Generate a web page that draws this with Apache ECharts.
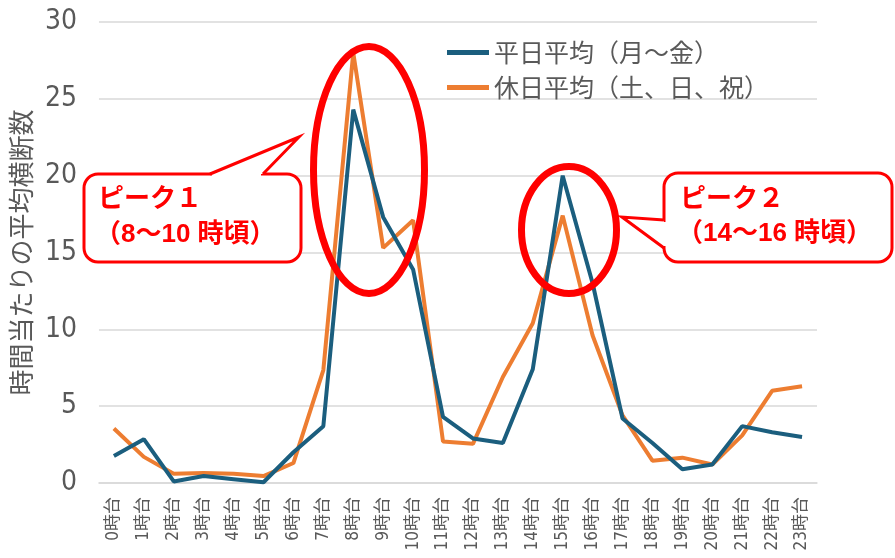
<!DOCTYPE html>
<html><head><meta charset="utf-8">
<script src="https://cdn.jsdelivr.net/npm/echarts@6/dist/echarts.min.js"></script>
<style>html,body{margin:0;padding:0;background:#fff}#c{width:895px;height:558px}</style>
</head><body><div id="c"></div>
<script>
var categories = ['0時台','1時台','2時台','3時台','4時台','5時台','6時台','7時台','8時台','9時台','10時台','11時台','12時台','13時台','14時台','15時台','16時台','17時台','18時台','19時台','20時台','21時台','22時台','23時台'];
var weekday = [1.75, 2.85, 0.1, 0.45, 0.25, 0.05, 2.0, 3.7, 24.3, 17.3, 13.9, 4.3, 2.9, 2.6, 7.4, 20.0, 13.0, 4.2, 2.6, 0.9, 1.2, 3.7, 3.3, 3.0];
var holiday = [3.55, 1.7, 0.6, 0.65, 0.6, 0.45, 1.3, 7.35, 28.0, 15.3, 17.1, 2.7, 2.55, 6.9, 10.4, 17.4, 9.6, 4.4, 1.45, 1.65, 1.2, 3.1, 6.0, 6.3];
var seriesNames = ['平日平均（月～金）', '休日平均（土、日、祝）'];
var yTicks = {min: 0, max: 30, interval: 5};

var chart = echarts.init(document.getElementById('c'));
var cjk = '"Noto Sans CJK JP", sans-serif';
var narrow = '"Liberation Sans Narrow", "DejaVu Sans Condensed", "Noto Sans CJK JP", sans-serif';
var calloutFont = '"Liberation Sans", "Noto Sans CJK JP", sans-serif';
var red = '#ff0000';
chart.setOption({
  animation: false,
  grid: {left: 96, right: 78, top: 22, bottom: 75, containLabel: false},
  legend: {
    orient: 'vertical', left: 442, top: 35, itemWidth: 42, itemHeight: 5, itemGap: 10, icon: 'rect',
    textStyle: {fontFamily: cjk, fontSize: 25, color: '#595959'},
    data: seriesNames
  },
  xAxis: {
    type: 'category', data: categories, boundaryGap: true,
    axisLine: {lineStyle: {color: '#d9d9d9', width: 1.5}},
    axisTick: {show: false},
    axisLabel: {rotate: 90, fontFamily: narrow, fontSize: 17, color: '#595959', margin: 14, interval: 0}
  },
  yAxis: {
    type: 'value', min: yTicks.min, max: yTicks.max, interval: yTicks.interval,
    name: '時間当たりの平均横断数', nameLocation: 'middle', nameGap: 60, nameRotate: 90,
    nameTextStyle: {fontFamily: cjk, fontSize: 26, color: '#595959'},
    axisLine: {show: false}, axisTick: {show: false},
    axisLabel: {fontFamily: narrow, fontSize: 28, color: '#595959', margin: 22},
    splitLine: {lineStyle: {color: '#d9d9d9', width: 1.5}}
  },
  series: [
    {name: seriesNames[0], type: 'line', data: weekday, symbol: 'none', z: 3,
     lineStyle: {color: '#1b5e7e', width: 4}, itemStyle: {color: '#1b5e7e'}},
    {name: seriesNames[1], type: 'line', data: holiday, symbol: 'none', z: 2,
     lineStyle: {color: '#ed7d31', width: 4}, itemStyle: {color: '#ed7d31'}}
  ],
  graphic: [
    {type: 'ellipse', shape: {cx: 369, cy: 170, rx: 55.5, ry: 123.5}, style: {fill: 'none', stroke: red, lineWidth: 7}, z: 10},
    {type: 'ellipse', shape: {cx: 569, cy: 230, rx: 47.5, ry: 63.5}, style: {fill: 'none', stroke: red, lineWidth: 7}, z: 10},
    // callout 1
    {type: 'rect', shape: {x: 84, y: 174, width: 217, height: 88, r: 14}, style: {fill: '#fff', stroke: red, lineWidth: 3}, z: 20},
    {type: 'line', shape: {x1: 212, y1: 174, x2: 261, y2: 174}, style: {stroke: '#fff', lineWidth: 5}, z: 21},
    {type: 'polyline', shape: {points: [[210, 174], [299, 137], [263, 174]]}, style: {fill: '#fff', stroke: red, lineWidth: 3}, z: 21},
    {type: 'text', left: 98, top: 187, style: {text: 'ピーク１', fontFamily: calloutFont, fontWeight: 'bold', fontSize: 26, fill: red}, z: 22},
    {type: 'text', left: 95, top: 222, style: {text: '（8～10 時頃）', fontFamily: calloutFont, fontWeight: 'bold', fontSize: 26, fill: red}, z: 22},
    // callout 2
    {type: 'rect', shape: {x: 664, y: 173, width: 228, height: 89, r: 14}, style: {fill: '#fff', stroke: red, lineWidth: 3}, z: 20},
    {type: 'line', shape: {x1: 664, y1: 222, x2: 664, y2: 246}, style: {stroke: '#fff', lineWidth: 5}, z: 21},
    {type: 'polyline', shape: {points: [[664, 220], [622, 217], [664, 248]]}, style: {fill: '#fff', stroke: red, lineWidth: 3}, z: 21},
    {type: 'text', left: 680, top: 187, style: {text: 'ピーク２', fontFamily: calloutFont, fontWeight: 'bold', fontSize: 26, fill: red}, z: 22},
    {type: 'text', left: 677, top: 221, style: {text: '（14～16 時頃）', fontFamily: calloutFont, fontWeight: 'bold', fontSize: 26, fill: red}, z: 22}
  ]
});
</script></body></html>
